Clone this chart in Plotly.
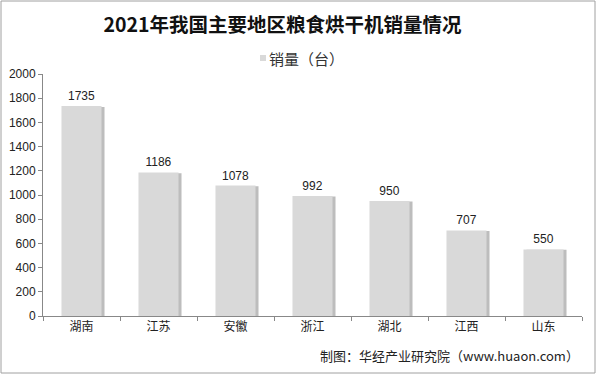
import plotly.graph_objects as go

regions = ["湖南", "江苏", "安徽", "浙江", "湖北", "江西", "山东"]
sales = [1735, 1186, 1078, 992, 950, 707, 550]
y_ticks = [0, 200, 400, 600, 800, 1000, 1200, 1400, 1600, 1800, 2000]
series_name = "销量（台）"

L, R, T, B = 43, 15, 74, 59
W, H = 597, 375
pw, ph = W - L - R, H - T - B

def px_x(p):
    return (p - L) / pw

def px_y(p):
    return (H - B - p) / ph

bar_w = 0.52
shadow_shift = 3 / (pw / len(regions))

fig = go.Figure()
# soft shadow behind bars
fig.add_trace(go.Bar(
    x=regions, y=[v * 0.995 for v in sales], showlegend=False, hoverinfo="skip",
    width=bar_w, offset=-bar_w / 2 + shadow_shift,
    marker=dict(color="#bdbdbd", line=dict(width=0)),
))
fig.add_trace(go.Bar(
    x=regions, y=sales, name=series_name, showlegend=False,
    width=bar_w, offset=-bar_w / 2,
    marker=dict(color="#d9d9d9", line=dict(width=0)),
    text=[str(v) for v in sales], textposition="outside",
    textfont=dict(size=12, color="#222222", family="Arial, Liberation Sans"),
    cliponaxis=False,
))

fig.update_layout(
    width=W, height=H,
    margin=dict(l=L, r=R, t=T, b=B, autoexpand=False),
    paper_bgcolor="white", plot_bgcolor="white",
    barmode="overlay",
    font=dict(family="Noto Sans CJK SC, Arial", size=12, color="#222222"),
    title=dict(text="<b>2021年我国主要地区粮食烘干机销量情况</b>",
               x=px_x(298), xanchor="center", y=1 - 25 / H, yanchor="middle",
               font=dict(size=19.5, family="Noto Sans CJK SC", color="#111111")),
    showlegend=False,
    xaxis=dict(showline=True, linecolor="#888888", linewidth=1, automargin=False,
               ticks="outside", ticklen=4, tickcolor="#888888",
               tickson="boundaries", showgrid=False,
               tickfont=dict(size=12, family="Noto Sans CJK SC")),
    yaxis=dict(range=[0, 2000], tickvals=y_ticks, showline=True, linecolor="#888888",
               linewidth=1, ticks="outside", ticklen=4, tickcolor="#888888",
               showgrid=False, zeroline=False, automargin=False,
               tickfont=dict(size=12, family="Arial, Liberation Sans")),
    shapes=[
        dict(type="rect", xref="paper", yref="paper",
             x0=px_x(1), x1=px_x(595), y0=px_y(373), y1=px_y(1),
             line=dict(color="#a0a0a0", width=1), layer="below"),
        dict(type="rect", xref="paper", yref="paper",
             x0=px_x(260), x1=px_x(266), y0=px_y(61), y1=px_y(55),
             fillcolor="#d9d9d9", line=dict(width=0)),
    ],
    annotations=[
        dict(text=series_name, xref="paper", yref="paper",
             x=px_x(267), y=px_y(58), xanchor="left", yanchor="middle",
             showarrow=False, font=dict(size=15, color="#333333")),
        dict(text="制图：华经产业研究院（www.huaon.com）", xref="paper", yref="paper",
             x=px_x(581), y=px_y(355), xanchor="right", yanchor="middle",
             showarrow=False, font=dict(size=13, color="#222222")),
    ],
)

fig.write_html("out.html", config={"displayModeBar": False},
               post_script="document.body.style.margin='0';document.body.style.overflow='hidden';")
